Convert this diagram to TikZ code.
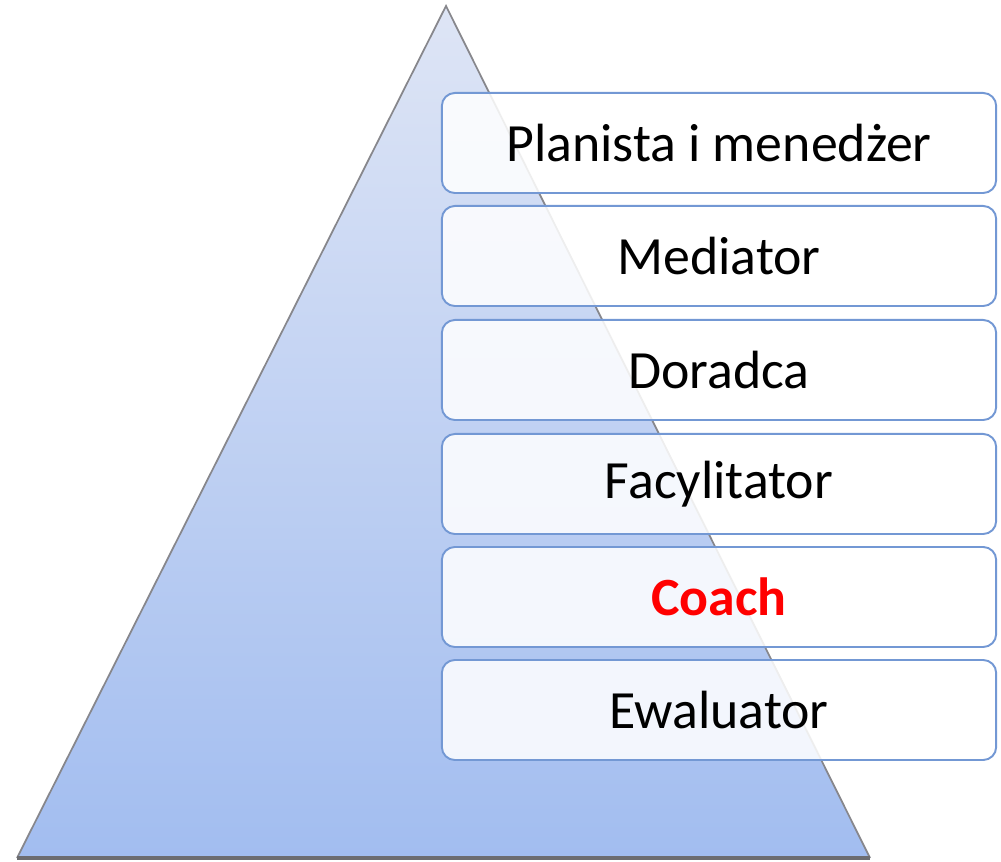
\documentclass[tikz,border=0pt]{standalone}
\usepackage{fontspec}
\setmainfont{Carlito}
\usetikzlibrary{positioning}

\definecolor{pyrtop}{RGB}{222,229,245}
\definecolor{pyrbot}{RGB}{162,189,240}
\definecolor{boxline}{RGB}{115,152,212}
\definecolor{edgegrey}{RGB}{135,135,140}

\tikzset{
  role/.style={draw=boxline, line width=0.55pt, fill=white, fill opacity=0.86, text opacity=1,
    rounded corners=0.13cm, minimum width=5.54cm, minimum height=1.0cm,
    font=\fontsize{15.3}{18}\selectfont, inner sep=0pt},
  hot/.style={role, text=red, font=\fontsize{15.3}{18}\selectfont\bfseries}
}

\begin{document}
\begin{tikzpicture}[x=0.01cm, y=-0.01cm]
%      \draw [help lines] (0,0) grid[step=100] (1001,862);
      \useasboundingbox (0,0) rectangle (1001,862);

      % pyramid
      \shade [top color=pyrtop, bottom color=pyrbot] (446,6) -- (870,858) -- (17,858) -- cycle;
      \draw [edgegrey, line width=0.5pt] (17,858) -- (446,6) -- (870,858);
      \draw [edgegrey!80!black, line width=1pt] (17,858) -- (870,858);

      % roles
      \node [role] (r1) at (719,143) {Planista i menedżer};
      \node [role] (r2) at (719,256) {Mediator};
      \node [role] (r3) at (719,370) {Doradca};
      \node [role] (r4) at (719,484) {Facylitator};
      \node [hot]  (r5) at (719,597) {Coach};
      \node [role] (r6) at (719,710) {Ewaluator};
\end{tikzpicture}
\end{document}
